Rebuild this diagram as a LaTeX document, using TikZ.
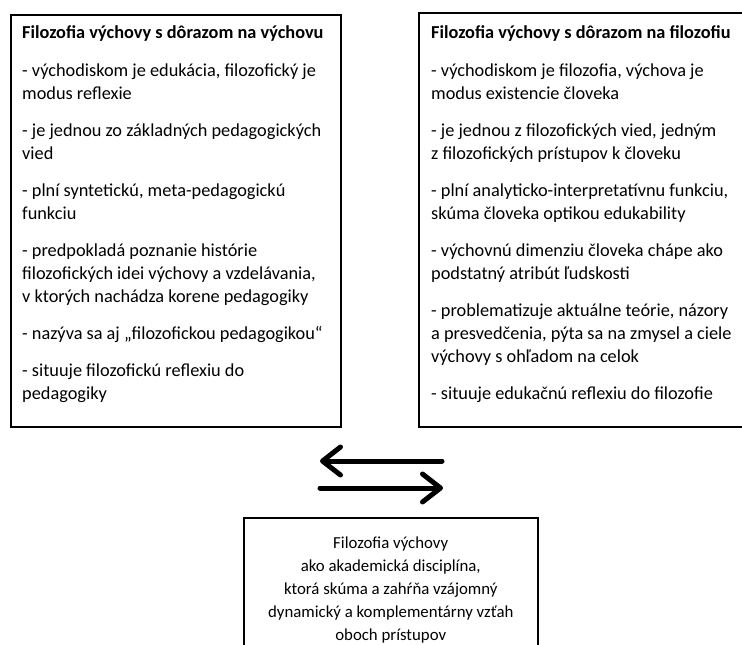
\documentclass[tikz,border=0pt]{standalone}
\usepackage{fontspec}
\setmainfont{Carlito}
\usetikzlibrary{arrows.meta}

\begin{document}
\begin{tikzpicture}[x=1pt,y=1pt,
        frame/.style={draw, line width=1.5pt, inner sep=0pt, anchor=north west},
        txt/.style={align=left, inner sep=0pt, anchor=north west, font=\fontsize{18.3}{23}\selectfont},
        arr/.style={line width=5pt, line cap=round, -{Straight Barb[length=18pt,width=28pt,round]}}]
        % Page area
        \clip (0,0) rectangle (742,-645);
        % Draw the three boxes
        \node[frame, minimum width=330, minimum height=412] (leftbox) at (10,-14) {};
        \node[frame, minimum width=340, minimum height=414] (rightbox) at (418,-12) {};
        \node[frame, minimum width=294, minimum height=200] (bottombox) at (243,-517) {};
        % Texts in the boxes
        \node[txt] (lefttxt) at ([shift={(12,-11)}]leftbox.north west) {%
            \textbf{Filozofia výchovy s dôrazom na výchovu}\\[15pt]
            - východiskom je edukácia, filozofický je\\
            modus reflexie\\[14pt]
            - je jednou zo základných pedagogických\\
            vied\\[14pt]
            - plní syntetickú, meta-pedagogickú\\
            funkciu\\[14pt]
            - predpokladá poznanie histórie\\
            filozofických idei výchovy a vzdelávania,\\
            v ktorých nachádza korene pedagogiky\\[14pt]
            - nazýva sa aj „filozofickou pedagogikou“\\[14pt]
            - situuje filozofickú reflexiu do\\
            pedagogiky};
        \node[txt] (righttxt) at ([shift={(13,-13)}]rightbox.north west) {%
            \textbf{Filozofia výchovy s dôrazom na filozofiu}\\[15pt]
            - východiskom je filozofia, výchova je\\
            modus existencie človeka\\[14pt]
            - je jednou z filozofických vied, jedným\\
            z filozofických prístupov k človeku\\[14pt]
            - plní analyticko-interpretatívnu funkciu,\\
            skúma človeka optikou edukability\\[14pt]
            - výchovnú dimenziu človeka chápe ako\\
            podstatný atribút ľudskosti\\[14pt]
            - problematizuje aktuálne teórie, názory\\
            a presvedčenia, pýta sa na zmysel a ciele\\
            výchovy s ohľadom na celok\\[14pt]
            - situuje edukačnú reflexiu do filozofie};
        \node[txt, align=center, anchor=north, font=\fontsize{16.8}{23}\selectfont] (bottomtxt)
            at ([shift={(0,-20)}]bottombox.north) {%
            Filozofia výchovy\\
            ako akademická disciplína,\\
            ktorá skúma a zahŕňa vzájomný\\
            dynamický a komplementárny vzťah\\
            oboch prístupov};
        % Arrows between both approaches
        \coordinate (topR) at (442,-461);
        \coordinate (topL) at (320,-461);
        \coordinate (botL) at (320,-488);
        \coordinate (botR) at (443,-488);
        \draw[arr] (topR) -- (topL);
        \draw[arr] (botL) -- (botR);
    \end{tikzpicture}
\end{document}
